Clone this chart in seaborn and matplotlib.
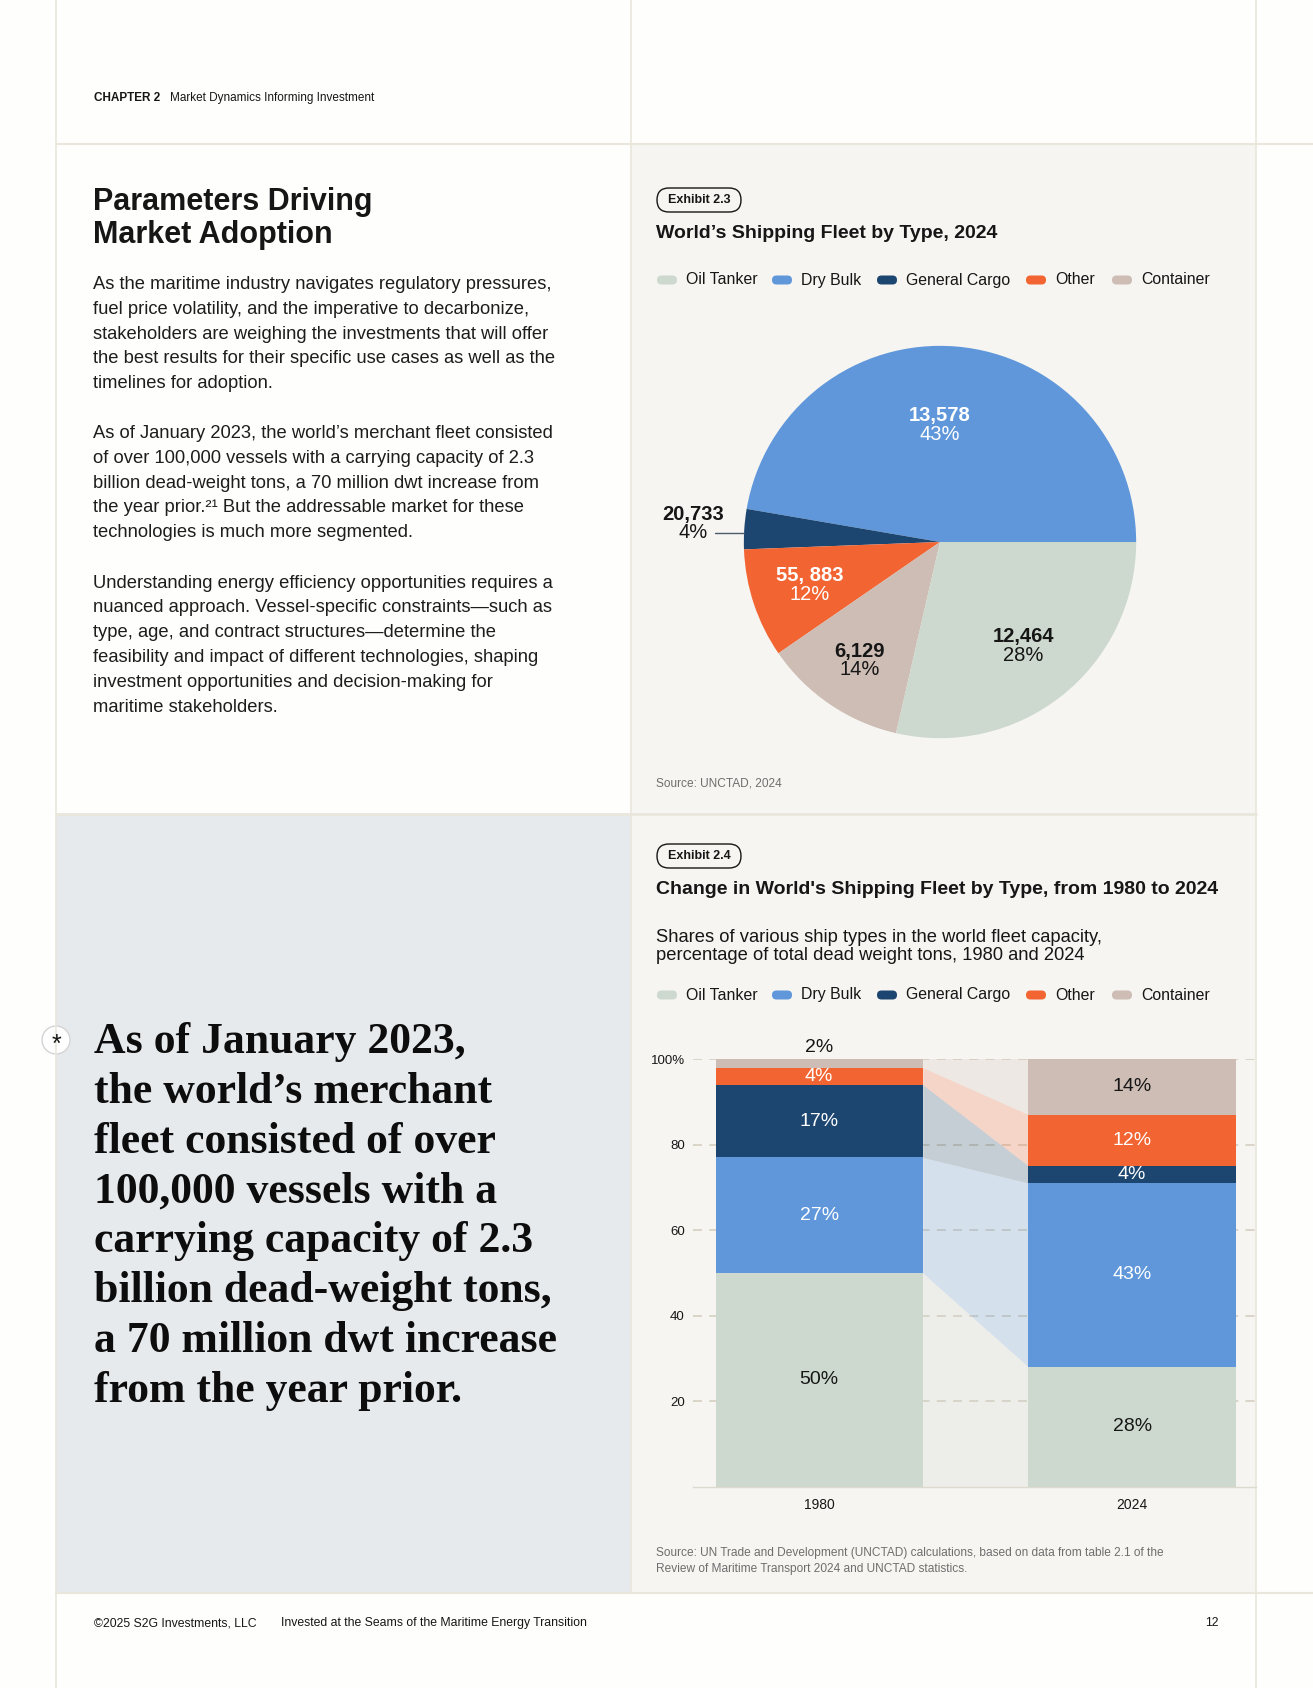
import numpy as np
import pandas as pd
import matplotlib.pyplot as plt
from matplotlib.patches import FancyBboxPatch, Rectangle, Circle
import seaborn as sns

# page size in pixels (dpi = 100)
W, H = 1313, 1688

# -----------------------------
# data
# -----------------------------
categories = ["Oil Tanker", "Dry Bulk", "General Cargo", "Other", "Container"]
cat_colors = ["#cdd9ce", "#5f97da", "#1c4670", "#f26532", "#cdbdb4"]
light_text = ["Dry Bulk", "General Cargo", "Other"]   # white labels on these

# Exhibit 2.3 - pie, drawn counter-clockwise from 3 o'clock
pie_order = ["Dry Bulk", "General Cargo", "Other", "Container", "Oil Tanker"]
pie_counts = ["13,578", "20,733", "55, 883", "6,129", "12,464"]
pie_pct = [43, 4, 12, 14, 28]
pie_share = [47.3, 3.3, 9.0, 11.8, 28.6]   # slice sizes as drawn in the source

# Exhibit 2.4 - stacked shares
years = ["1980", "2024"]
share_1980 = [50, 27, 17, 4, 2]
share_2024 = [28, 43, 4, 12, 14]
yticks = [20, 40, 60, 80, 100]
ytick_labels = ["20", "40", "60", "80", "100%"]

# text blocks
title_lines = ["Parameters Driving", "Market Adoption"]
paragraphs = [
    ["As the maritime industry navigates regulatory pressures,",
     "fuel price volatility, and the imperative to decarbonize,",
     "stakeholders are weighing the investments that will offer",
     "the best results for their specific use cases as well as the",
     "timelines for adoption."],
    ["As of January 2023, the world’s merchant fleet consisted",
     "of over 100,000 vessels with a carrying capacity of 2.3",
     "billion dead-weight tons, a 70 million dwt increase from",
     "the year prior.²¹ But the addressable market for these",
     "technologies is much more segmented."],
    ["Understanding energy efficiency opportunities requires a",
     "nuanced approach. Vessel-specific constraints—such as",
     "type, age, and contract structures—determine the",
     "feasibility and impact of different technologies, shaping",
     "investment opportunities and decision-making for",
     "maritime stakeholders."],
]
quote_lines = ["As of January 2023,", "the world’s merchant", "fleet consisted of over",
               "100,000 vessels with a", "carrying capacity of 2.3",
               "billion dead-weight tons,", "a 70 million dwt increase",
               "from the year prior."]

# -----------------------------
# style
# -----------------------------
sns.set_theme(style="white")
plt.rcParams["font.family"] = ["Liberation Sans", "DejaVu Sans"]
INK = "#161616"
GREY = "#6e6e6e"
LINE = "#e9e6dc"
PANEL = "#f6f5f2"
QUOTE_BG = "#e7eaed"
color_of = dict(zip(categories, cat_colors))


def fax(x0, y0, x1, y1):
    """pixel box (top-left origin) -> figure fraction rect"""
    return [x0 / W, 1 - y1 / H, (x1 - x0) / W, (y1 - y0) / H]


fig = plt.figure(figsize=(W / 100, H / 100), dpi=100, facecolor="#fefefd")
bg = fig.add_axes([0, 0, 1, 1])
bg.set_xlim(0, W)
bg.set_ylim(H, 0)
bg.axis("off")

# panels and page grid
bg.add_patch(Rectangle((631, 144), 625, 670, color=PANEL, lw=0))
bg.add_patch(Rectangle((56, 814), 575, 779, color=QUOTE_BG, lw=0))
bg.add_patch(Rectangle((631, 814), 625, 779, color=PANEL, lw=0))
for x in [56, 1256]:
    bg.plot([x, x], [0, H], color=LINE, lw=1.2)
bg.plot([631, 631], [0, 1593], color=LINE, lw=1.2)
bg.plot([56, W], [144, 144], color=LINE, lw=1.5)
bg.plot([56, 1256], [814, 814], color=LINE, lw=2)
bg.plot([56, W], [1593, 1593], color=LINE, lw=1.5)

# header
bg.text(94, 98, "CHAPTER 2", fontsize=8.5, fontweight="bold", color=INK, va="center")
bg.text(170, 98, "Market Dynamics Informing Investment", fontsize=8.5, color=INK, va="center")

# left column text
for i, line in enumerate(title_lines):
    bg.text(93, 210 + i * 32.5, line, fontsize=22, fontweight="bold", color=INK, va="baseline")

para_start = [289, 438, 587.5]
for start, lines in zip(para_start, paragraphs):
    for i, line in enumerate(lines):
        bg.text(93, start + i * 24.8, line, fontsize=13.2, color="#1d1d1d", va="baseline")

# pull quote
for i, line in enumerate(quote_lines):
    bg.text(94, 1053 + i * 49.85, line, fontsize=31.5, fontweight="bold",
            family=["Liberation Serif", "DejaVu Serif"], color="#0d0d0d", va="baseline")
bg.add_patch(Circle((56, 1040), 14, facecolor="white", edgecolor="#d4d4d4", lw=1))
bg.text(56, 1045, "*", fontsize=18, color=INK, ha="center", va="center")


def exhibit_header(y_pill, label, title, y_title):
    bg.add_patch(FancyBboxPatch((657, y_pill - 12), 84, 24,
                                boxstyle="round,pad=0,rounding_size=12",
                                facecolor="none", edgecolor=INK, lw=1))
    bg.text(699, y_pill, label, fontsize=9, fontweight="bold", color=INK,
            ha="center", va="center")
    bg.text(656, y_title, title, fontsize=14, fontweight="bold", color=INK, va="center")


def legend_row(y):
    swatch_x = [657, 772, 877, 1026, 1112]
    for x, cat, col in zip(swatch_x, categories, cat_colors):
        bg.add_patch(FancyBboxPatch((x, y - 4.5), 20, 9,
                                    boxstyle="round,pad=0,rounding_size=4.5",
                                    facecolor=col, edgecolor="none"))
        bg.text(x + 29, y, cat, fontsize=11.4, color=INK, va="center")


# -----------------------------
# Exhibit 2.3 : pie
# -----------------------------
exhibit_header(200, "Exhibit 2.3", "World’s Shipping Fleet by Type, 2024", 234)
legend_row(280)
bg.text(656, 784, "Source: UNCTAD, 2024", fontsize=8.6, color=GREY, va="center")

cx, cy, half = 940, 542, 255
pa = fig.add_axes(fax(cx - half, cy - half, cx + half, cy + half))
pa.set_facecolor("none")
wedges, _ = pa.pie(pie_share, colors=[color_of[c] for c in pie_order], startangle=0,
                   counterclock=True, wedgeprops=dict(linewidth=0))
pa.set_xlim(-1.3, 1.3)
pa.set_ylim(-1.3, 1.3)
pa.set_aspect("equal")

label_r = {"Dry Bulk": 0.6, "Other": 0.7, "Container": 0.73, "Oil Tanker": 0.68}
for w, cat, cnt, pct in zip(wedges, pie_order, pie_counts, pie_pct):
    theta = np.deg2rad((w.theta1 + w.theta2) / 2)
    tc = "white" if cat in ("Dry Bulk", "Other") else INK
    if cat in label_r:
        lx, ly = label_r[cat] * np.cos(theta), label_r[cat] * np.sin(theta)
        if cat == "Dry Bulk":
            lx = 0.0   # sits on the vertical through the centre in the source
    else:
        # thin slice: label outside with a leader line
        ly = np.sin(theta) - 0.02
        x_edge = np.cos(theta)
        pa.plot([x_edge, x_edge - 0.15], [ly, ly], color="#4a5a6a", lw=1, clip_on=False)
        lx = x_edge - 0.26
        ly = ly + 0.048
    pa.text(lx, ly + 0.048, cnt, fontsize=14.5, fontweight="bold", color=tc,
            ha="center", va="center")
    pa.text(lx, ly - 0.048, f"{pct}%", fontsize=14.5, color=tc, ha="center", va="center")

# -----------------------------
# Exhibit 2.4 : stacked bars
# -----------------------------
exhibit_header(856, "Exhibit 2.4",
               "Change in World's Shipping Fleet by Type, from 1980 to 2024", 890)
bg.text(656, 938, "Shares of various ship types in the world fleet capacity,",
        fontsize=13.2, color=INK, va="center")
bg.text(656, 955, "percentage of total dead weight tons, 1980 and 2024",
        fontsize=13.2, color=INK, va="center")
legend_row(995)
bg.text(656, 1553, "Source: UN Trade and Development (UNCTAD) calculations, based on data from table 2.1 of the",
        fontsize=8.6, color=GREY, va="center")
bg.text(656, 1569, "Review of Maritime Transport 2024 and UNCTAD statistics.",
        fontsize=8.6, color=GREY, va="center")

df = pd.DataFrame({
    "year": np.repeat(years, len(categories)),
    "category": categories * len(years),
    "share": share_1980 + share_2024,
})
df["top"] = df.groupby("year")["share"].cumsum()
df["bottom"] = df["top"] - df["share"]

ba = fig.add_axes(fax(693, 1059, 1256, 1486.7))
ba.set_facecolor("none")
bar_w = 0.662

# stacked bars: draw cumulative tops from the top layer down
for cat, col in reversed(list(zip(categories, cat_colors))):
    sub = df[df["category"] == cat]
    sns.barplot(data=sub, x="year", y="top", order=years, color=col, width=bar_w,
                saturation=1, errorbar=None, linewidth=0, zorder=3, ax=ba)

# connecting bands between the two bars
x_left, x_right = bar_w / 2, 1 - bar_w / 2
for cat, col in zip(categories, cat_colors):
    a = df[(df["year"] == years[0]) & (df["category"] == cat)].iloc[0]
    b = df[(df["year"] == years[1]) & (df["category"] == cat)].iloc[0]
    ba.fill_between([x_left, x_right], [a["bottom"], b["bottom"]], [a["top"], b["top"]],
                    color=col, alpha=0.22, lw=0, zorder=1)

# value labels
for _, row in df.iterrows():
    xi = years.index(row["year"])
    tc = "white" if row["category"] in light_text else INK
    if row["share"] < 3:
        ba.annotate(f"{row['share']}%", xy=(xi, 100), xytext=(0, 8), textcoords="offset points",
                    ha="center", va="center", fontsize=14, color=INK, annotation_clip=False)
        continue
    mid = (row["bottom"] + min(row["top"], 100)) / 2
    ba.text(xi, mid, f"{row['share']}%", ha="center", va="center", fontsize=14, color=tc, zorder=5)

ba.set_xlim(-0.403, 1.396)
ba.set_ylim(0, 100)
ba.set_yticks(yticks)
ba.set_yticklabels(ytick_labels)
ba.set_xlabel("")
ba.set_ylabel("")
ba.yaxis.grid(True, linestyle=(0, (5, 4)), color="#d8d2c4", lw=1.3)
ba.set_axisbelow(True)
for side in ["top", "right", "left"]:
    ba.spines[side].set_visible(False)
ba.spines["bottom"].set_color("#dedad0")
ba.spines["bottom"].set_linewidth(1)
ba.tick_params(axis="y", length=0, pad=6, labelsize=9.5, labelcolor=INK)
ba.tick_params(axis="x", length=0, pad=8, labelsize=10, labelcolor=INK)

# footer
bg.text(94, 1623, "©2025 S2G Investments, LLC", fontsize=8.8, color=INK, va="center")
bg.text(281, 1623, "Invested at the Seams of the Maritime Energy Transition", fontsize=8.8,
        color=INK, va="center")
bg.text(1219, 1623, "12", fontsize=8.8, color=INK, va="center", ha="right")

fig.savefig("out.png", dpi=100, facecolor=fig.get_facecolor())
